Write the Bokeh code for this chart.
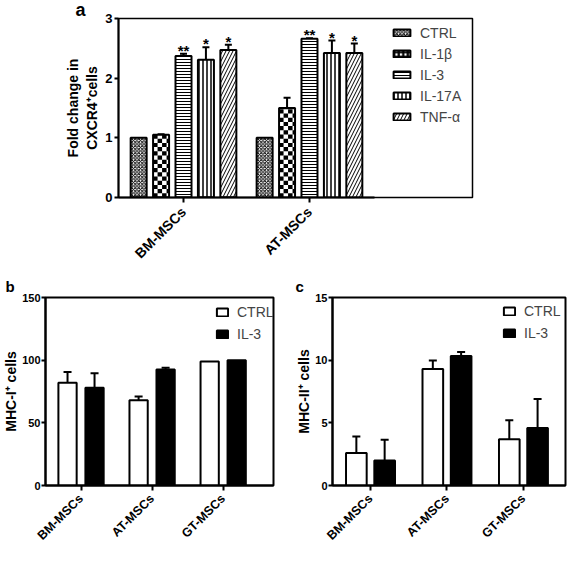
import math
from bokeh.plotting import figure
from bokeh.models import (Range1d, FixedTicker, Legend, LegendItem, ColumnDataSource,
                          Whisker, TeeHead, Title)
from bokeh.layouts import column, row
from bokeh.embed import file_html
from bokeh.resources import INLINE
from bokeh.core.properties import value

# ---------------- data: panel a ----------------
cells_a = ["BM-MSCs", "AT-MSCs"]
treatments_a = ["CTRL", "IL-1β", "IL-3", "IL-17A", "TNF-α"]
ctrl_a = [1.00, 1.00]
il1b_a = [1.05, 1.50]
il3_a = [2.37, 2.66]
il17a_a = [2.31, 2.42]
tnfa_a = [2.47, 2.42]
ctrl_a_err = [0.0, 0.0]
il1b_a_err = [0.01, 0.17]
il3_a_err = [0.04, 0.01]
il17a_a_err = [0.21, 0.21]
tnfa_a_err = [0.09, 0.16]
stars_a = ["", "", "**", "*", "*"]
yticks_a = [0, 1, 2, 3]

# ---------------- data: panels b, c ----------------
cells_bc = ["BM-MSCs", "AT-MSCs", "GT-MSCs"]
groups_bc = ["CTRL", "IL-3"]
mhc1_ctrl = [82.0, 68.0, 99.0]
mhc1_ctrl_err = [8.5, 3.0, 0.0]
mhc1_il3 = [78.0, 92.5, 100.0]
mhc1_il3_err = [11.5, 1.5, 0.0]
yticks_b = [0, 50, 100, 150]
mhc2_ctrl = [2.6, 9.3, 3.7]
mhc2_ctrl_err = [1.3, 0.67, 1.5]
mhc2_il3 = [2.0, 10.34, 4.58]
mhc2_il3_err = [1.65, 0.31, 2.32]
yticks_c = [0, 5, 10, 15]

FONT = "Liberation Sans"


def style_axes(p, tick_size, xtick_size, label_size):
    p.toolbar_location = None
    p.xgrid.grid_line_color = None
    p.ygrid.grid_line_color = None
    p.outline_line_color = "black"
    p.outline_line_width = 2
    p.background_fill_color = "white"
    p.border_fill_color = "white"
    for ax in (p.xaxis[0], p.yaxis[0]):
        ax.axis_line_width = 2
        ax.axis_line_color = "black"
        ax.major_tick_line_width = 2
        ax.major_tick_in = 0
        ax.major_tick_out = 4
        ax.minor_tick_line_color = None
        ax.major_label_text_font = FONT
        ax.major_label_text_font_style = "bold"
        ax.major_label_text_font_size = tick_size
        ax.major_label_text_color = "black"
        ax.axis_label_text_font = FONT
        ax.axis_label_text_font_style = "bold"
        ax.axis_label_text_font_size = label_size
        ax.axis_label_text_color = "black"
    p.xaxis.major_label_text_font_size = xtick_size
    p.xaxis.major_label_orientation = math.pi / 4
    p.xaxis.major_tick_out = 5
    p.xaxis.major_label_standoff = 6
    p.yaxis.major_label_standoff = 2


def add_errors(p, xs, tops, errs, cap=8):
    keep = [i for i, e in enumerate(errs) if e > 0]
    src = ColumnDataSource(dict(
        base=[xs[i] for i in keep],
        lower=[tops[i] for i in keep],
        upper=[tops[i] + errs[i] for i in keep]))
    w = Whisker(base="base", lower="lower", upper="upper", source=src,
                line_width=2, line_color="black",
                upper_head=TeeHead(size=cap, line_width=2, line_color="black"),
                lower_head=None)
    p.add_layout(w)


def letter_title(text, size, offset, standoff, valign):
    return Title(text=text, align="left", offset=offset, standoff=standoff,
                 vertical_align=valign, text_font=FONT, text_font_style="bold",
                 text_font_size=size, text_color="black")


# ================= panel a =================
A_W, A_H = 567, 270
A_L, A_T = 118, 18
A_FW, A_FH = 354, 179
xr_a = (0.484, 3.294)
pa = figure(width=A_W, height=A_H, output_backend="svg", toolbar_location=None,
            x_range=Range1d(*xr_a), y_range=Range1d(0, 3),
            min_border_left=A_L, min_border_right=A_W - A_L - A_FW,
            min_border_top=A_T, min_border_bottom=A_H - A_T - A_FH)
style_axes(pa, "13px", "14px", "14px")
pa.outline_line_width = 1.5
pa.xaxis.ticker = FixedTicker(ticks=[1, 2])
pa.xaxis.major_label_overrides = {1: cells_a[0], 2: cells_a[1]}
pa.xaxis.bounds = (xr_a[0], 2 + (1 - xr_a[0]))
pa.xaxis.major_label_standoff = 7
pa.yaxis.ticker = FixedTicker(ticks=yticks_a)
pa.yaxis.axis_label = "Fold change in\nCXCR4\u207acells"
pa.yaxis.axis_label_standoff = 2
pa.title = letter_title("a", "18px", -43, -6, "top")

vals_a = [ctrl_a, il1b_a, il3_a, il17a_a, tnfa_a]
errs_a = [ctrl_a_err, il1b_a_err, il3_a_err, il17a_a_err, tnfa_a_err]
step_a = 0.178
bw_a = 0.127
styles_a = [
    dict(fill_color="white", hatch_pattern="diagonal_cross", hatch_scale=3.5, hatch_weight=1.0, hatch_color="black"),
    dict(fill_color="white"),
    dict(fill_color="white", hatch_pattern="horizontal_line", hatch_scale=3, hatch_weight=1.0, hatch_color="black"),
    dict(fill_color="white", hatch_pattern="vertical_line", hatch_scale=4, hatch_weight=1.5, hatch_color="black"),
    dict(fill_color="white", hatch_pattern="right_diagonal_line", hatch_scale=7, hatch_weight=1.0, hatch_color="black"),
]
legend_items = []
dx_px = (xr_a[1] - xr_a[0]) / A_FW
dy_px = 3.0 / A_FH
for k, (name, vals, errs, st) in enumerate(zip(treatments_a, vals_a, errs_a, styles_a)):
    xs = [g + 1 + (k - 2) * step_a for g in range(len(cells_a))]
    pa.vbar(x=xs, top=vals, width=bw_a, line_color=None, **st)
    if name == "IL-1β":
        # checkerboard fill, computed from each bar's extent
        cell_x, cell_y = 4.5 * dx_px, 4.2 * dy_px
        L, R, B, T = [], [], [], []
        for x, v in zip(xs, vals):
            left = x - bw_a / 2
            ncol = int(math.ceil(bw_a / cell_x))
            nrow = int(math.ceil(v / cell_y))
            for i in range(nrow):
                for j in range(ncol):
                    if (i + j) % 2 == 0:
                        L.append(left + j * cell_x)
                        R.append(min(left + (j + 1) * cell_x, left + bw_a))
                        B.append(i * cell_y)
                        T.append(min((i + 1) * cell_y, v))
        pa.quad(left=L, right=R, bottom=B, top=T, fill_color="black", line_color=None)
    pa.vbar(x=xs, top=vals, width=bw_a, fill_color=None, line_color="black", line_width=2)
    add_errors(pa, xs, vals, errs, cap=7)
    if stars_a[k]:
        pa.text(x=xs, y=[v + e for v, e in zip(vals, errs)], text=[stars_a[k]] * len(xs),
                text_align="center", text_baseline="bottom", y_offset=5,
                text_font=value(FONT), text_font_style="bold", text_font_size="15px",
                text_color="black")
    # legend swatch proxy: zero-height bar sitting on the axis (invisible on the plot)
    if name == "IL-1β":
        proxy = pa.vbar(x=xs[:1], top=[0], width=bw_a, fill_color="white", hatch_pattern="cross",
                        hatch_scale=4.5, hatch_weight=2.2, hatch_color="black",
                        line_color="black", line_width=2)
    else:
        proxy = pa.vbar(x=xs[:1], top=[0], width=bw_a, line_color="black", line_width=2, **st)
    legend_items.append(LegendItem(label=name, renderers=[proxy]))

leg_a = Legend(items=legend_items, location=(273, 70), padding=0, margin=0,
               spacing=0, label_height=21, glyph_width=21, glyph_height=9,
               label_standoff=8, label_text_font=FONT, label_text_font_size="14px",
               border_line_color=None, background_fill_alpha=0)
pa.add_layout(leg_a)


# ================= panels b, c =================
def make_bc(width, height, left, fw, top, fh, xr, yr, yticks, ylabel, ctrl, ctrl_err,
            il3, il3_err, off, bw, letter, letter_off, leg_x, leg_top):
    p = figure(width=width, height=height, output_backend="svg", toolbar_location=None,
               x_range=Range1d(*xr), y_range=Range1d(*yr),
               min_border_left=left, min_border_right=width - left - fw,
               min_border_top=top, min_border_bottom=height - top - fh)
    style_axes(p, "11px", "12.5px", "14px")
    p.xaxis.ticker = FixedTicker(ticks=[1, 2, 3])
    p.xaxis.major_label_overrides = {i + 1: c for i, c in enumerate(cells_bc)}
    p.yaxis.ticker = FixedTicker(ticks=yticks)
    p.yaxis.axis_label = ylabel
    p.yaxis.axis_label_standoff = 0
    p.yaxis.major_label_standoff = 1
    p.title = letter_title(letter, "15px", letter_off, 6, "bottom")
    xc = [i + 1 - off for i in range(len(cells_bc))]
    xi = [i + 1 + off for i in range(len(cells_bc))]
    r1 = p.vbar(x=xc, top=ctrl, width=bw, fill_color="white", line_color="black", line_width=2)
    r2 = p.vbar(x=xi, top=il3, width=bw, fill_color="black", line_color="black", line_width=2)
    add_errors(p, xc, ctrl, ctrl_err)
    add_errors(p, xi, il3, il3_err)
    leg = Legend(items=[LegendItem(label=groups_bc[0], renderers=[r1]),
                        LegendItem(label=groups_bc[1], renderers=[r2])],
                 location=(leg_x, fh - leg_top - 42), padding=0, margin=0, spacing=2,
                 label_height=20, glyph_width=14, glyph_height=10, label_standoff=8,
                 label_text_font=FONT, label_text_font_size="14px",
                 border_line_color=None, background_fill_alpha=0)
    p.add_layout(leg)
    return p


pb = make_bc(290, 291, 42, 231, 26, 189, (0.5, 3.708), (0, 150), yticks_b,
             "MHC-I\u207a cells", mhc1_ctrl, mhc1_ctrl_err, mhc1_il3, mhc1_il3_err,
             0.19, 0.257, "b", -40, 170, 6)
pc = make_bc(277, 291, 42, 233, 27, 190, (0.503, 3.55), (0, 15), yticks_c,
             "MHC-II\u207a cells", mhc2_ctrl, mhc2_ctrl_err, mhc2_il3, mhc2_il3_err,
             0.185, 0.27, "c", -37, 170, 6)

layout = column(pa, row(pb, pc, spacing=0), spacing=0)
open("out.html", "w").write(file_html(layout, INLINE))
